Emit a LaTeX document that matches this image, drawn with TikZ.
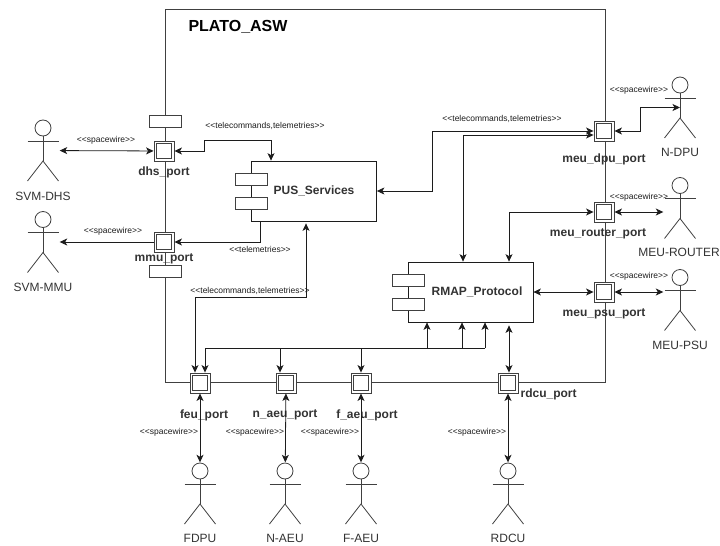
\documentclass[tikz,border=0pt]{standalone}
\usepackage{fontspec}
\setmainfont{Liberation Sans}
\usetikzlibrary{arrows.meta,positioning}
\definecolor{inkline}{HTML}{1C1C1C}
\definecolor{wallline}{HTML}{404040}
\definecolor{textgrey}{HTML}{333333}
\newcommand{\stereo}[1]{<{}<#1>{}>}

\begin{document}
\begin{tikzpicture}[
  x=1pt, y=-1pt,
  wall/.style={draw=wallline, line width=0.9pt},
  compbox/.style={draw=inkline, fill=white, line width=0.8pt, minimum width=125pt, minimum height=60pt, inner sep=0pt, font=\fontsize{12}{14}\selectfont\bfseries, text=textgrey},
  tab/.style={draw=wallline, fill=white, line width=0.8pt, minimum width=32pt, minimum height=12pt, inner sep=0pt},
  port/.style={draw=wallline, fill=white, line width=0.9pt, minimum size=20pt, inner sep=0pt, path picture={
    \draw[wallline, line width=0.9pt] ([shift={(-7.4,-7.4)}]path picture bounding box.center) rectangle ([shift={(7.4,7.4)}]path picture bounding box.center);}},
  portlabel/.style={inner sep=0pt, font=\fontsize{12}{14}\selectfont\bfseries, text=textgrey},
  actorlabel/.style={inner sep=0pt, font=\fontsize{12}{14}\selectfont, text=textgrey},
  wirelabel/.style={inner sep=0pt, font=\fontsize{8.5}{10}\selectfont, text=inkline},
  actor/.style={minimum width=33pt, minimum height=62pt, inner sep=0pt, path picture={
    \begin{scope}[shift={(path picture bounding box.center)}, wallline, line width=0.8pt]
      \draw (0,-22.5) circle (8pt);
      \draw (-15.5,-9.5) -- (15.5,-9.5);
      \draw (0,-14.5) -- (0,10.5);
      \draw (-15.5,30.5) -- (0,10.5) -- (15.5,30.5);
    \end{scope}}},
  arr/.style={-{Stealth[length=7.5pt,width=7pt,inset=2pt]}, inkline, line width=0.8pt},
  biarr/.style={{Stealth[length=7.5pt,width=7pt,inset=2pt]}-{Stealth[length=7.5pt,width=7pt,inset=2pt]}, inkline, line width=0.8pt}
]
\useasboundingbox (0,0) rectangle (720,546);

% main block
\draw[wall] (165,9) rectangle (605,382.5);
\node[portlabel, font=\fontsize{16}{18}\selectfont\bfseries, text=black] (title) at (238,27) {PLATO\_ASW};
\node[tab] (toptab) at (165,121.5) {};
\node[tab] (lowtab) at (165,271) {};

% components
\node[compbox] (pus) at (314,191) {PUS\_Services};
\node[tab] (pustabA) at (251,179) {};
\node[tab] (pustabB) at (251,203) {};
\node[compbox] (rmap) at (470.5,292) {\hspace{13pt}RMAP\_Protocol};
\node[tab] (rmaptabA) at (408,280) {};
\node[tab] (rmaptabB) at (408,304) {};

% ports
\node[port] (dhs) at (164,151) {};
\node[port] (mmu) at (164,242) {};
\node[port] (dpu) at (604,131) {};
\node[port] (router) at (604,212) {};
\node[port] (psu) at (604,292) {};
\node[port] (feu) at (200,383) {};
\node[port] (naeu) at (286,383) {};
\node[port] (faeu) at (361,383) {};
\node[port] (rdcu) at (508,383) {};

\node[portlabel, below=5pt of dhs] (dhslabel) {dhs\_port};
\node[portlabel, below=1pt of mmu] (mmulabel) {mmu\_port};
\node[portlabel, below=12pt of dpu] (dpulabel) {meu\_dpu\_port};
\node[portlabel, below=6pt of router, xshift=-6pt] (routerlabel) {meu\_router\_port};
\node[portlabel, below=6pt of psu] (psulabel) {meu\_psu\_port};
\node[portlabel, below=16pt of feu, xshift=4pt] (feulabel) {feu\_port};
\node[portlabel, below=16pt of naeu, xshift=-1pt] (naeulabel) {n\_aeu\_port};
\node[portlabel, below=16pt of faeu, xshift=6pt] (faeulabel) {f\_aeu\_port};
\node[portlabel, right=2pt of rdcu, yshift=-11pt] (rdculabel) {rdcu\_port};

% actors
\node[actor] (svmdhs) at (43,150.5) {};
\node[actor] (svmmmu) at (43,242) {};
\node[actor] (ndpu) at (680,107.5) {};
\node[actor] (meurouter) at (680,208) {};
\node[actor] (meupsu) at (680,300) {};
\node[actor] (fdpu) at (200,493.5) {};
\node[actor] (naeuact) at (285,493.5) {};
\node[actor] (faeuact) at (361,493.5) {};
\node[actor] (rdcuact) at (508,493.5) {};

\node[actorlabel, below=10pt of svmdhs] (svmdhslabel) {SVM-DHS};
\node[actorlabel, below=10pt of svmmmu] (svmmmulabel) {SVM-MMU};
\node[actorlabel, below=9pt of ndpu] (ndpulabel) {N-DPU};
\node[actorlabel, below=9pt of meurouter, xshift=-1pt] (meurouterlabel) {MEU-ROUTER};
\node[actorlabel, below=10pt of meupsu] (meupsulabel) {MEU-PSU};
\node[actorlabel, below=9pt of fdpu] (fdpulabel) {FDPU};
\node[actorlabel, below=9pt of naeuact] (naeuactlabel) {N-AEU};
\node[actorlabel, below=9pt of faeuact] (faeuactlabel) {F-AEU};
\node[actorlabel, below=9pt of rdcuact] (rdcuactlabel) {RDCU};

% outside links
\draw[biarr] (svmdhs) -- (dhs);
\draw[arr] (mmu) -- (svmmmu);
\draw[biarr] (dpu.east) -- (640,131) |- (ndpu.center);
\draw[biarr] (router.east) -- (router.east -| meurouter.west);
\draw[biarr] (psu.east) -- (psu.east -| meupsu.west);
\draw[biarr] (feu) -- (fdpu);
\draw[biarr] (naeu) -- (naeuact);
\draw[biarr] (faeu) -- (faeuact);
\draw[biarr] (rdcu) -- (rdcuact);

% inside links
\draw[biarr] (dhs.east) -- (204,151) |- (271,140) -- ([xshift=-43pt]pus.north);
\draw[arr] ([xshift=-54pt]pus.south) |- (mmu.east);
\draw[biarr] (pus.east) -- (432,191) |- (dpu.west);
\draw[biarr] ([xshift=-7.5pt]rmap.north) |- ([yshift=-4pt]dpu.west);
\draw[biarr] ([xshift=38.5pt]rmap.north) |- (router.west);
\draw[biarr] (rmap.east |- psu.west) -- (psu.west);
\draw[biarr] ([xshift=-8pt,yshift=-2pt]pus.south) |- (195,297) -- ([xshift=-5pt]feu.north);
\coordinate (bus) at (485,348);
\draw[arr] (427,348) -- (427,348 |- rmap.south);
\draw[arr] (462,348) -- (462,348 |- rmap.south);
\draw[arr] (bus) -- (bus |- rmap.south);
\draw[arr] (bus) -| ([xshift=5pt]feu.north);
\draw[arr] (280,348) -- ([xshift=-6pt]naeu.north);
\draw[arr] (361,348) -- (faeu.north);
\draw[biarr] ([xshift=1pt]rdcu.north) -- ([xshift=38.5pt,yshift=-3pt]rmap.south);

% link labels
\node[wirelabel] (wireA) at (106,140) {\stereo{spacewire}};
\node[wirelabel] (wireB) at (113,231) {\stereo{spacewire}};
\node[wirelabel] (wireC) at (639,90) {\stereo{spacewire}};
\node[wirelabel] (wireD) at (639,197) {\stereo{spacewire}};
\node[wirelabel] (wireE) at (639,276) {\stereo{spacewire}};
\node[wirelabel] (wireF) at (169,432) {\stereo{spacewire}};
\node[wirelabel] (wireG) at (255,432) {\stereo{spacewire}};
\node[wirelabel] (wireH) at (330,432) {\stereo{spacewire}};
\node[wirelabel] (wireI) at (477,432) {\stereo{spacewire}};
\node[wirelabel] (cmdA) at (265,126) {\stereo{telecommands,telemetries}};
\node[wirelabel] (cmdB) at (502,119) {\stereo{telecommands,telemetries}};
\node[wirelabel] (cmdC) at (250,291) {\stereo{telecommands,telemetries}};
\node[wirelabel] (tmA) at (260,249) {\stereo{telemetries}};
\end{tikzpicture}
\end{document}
